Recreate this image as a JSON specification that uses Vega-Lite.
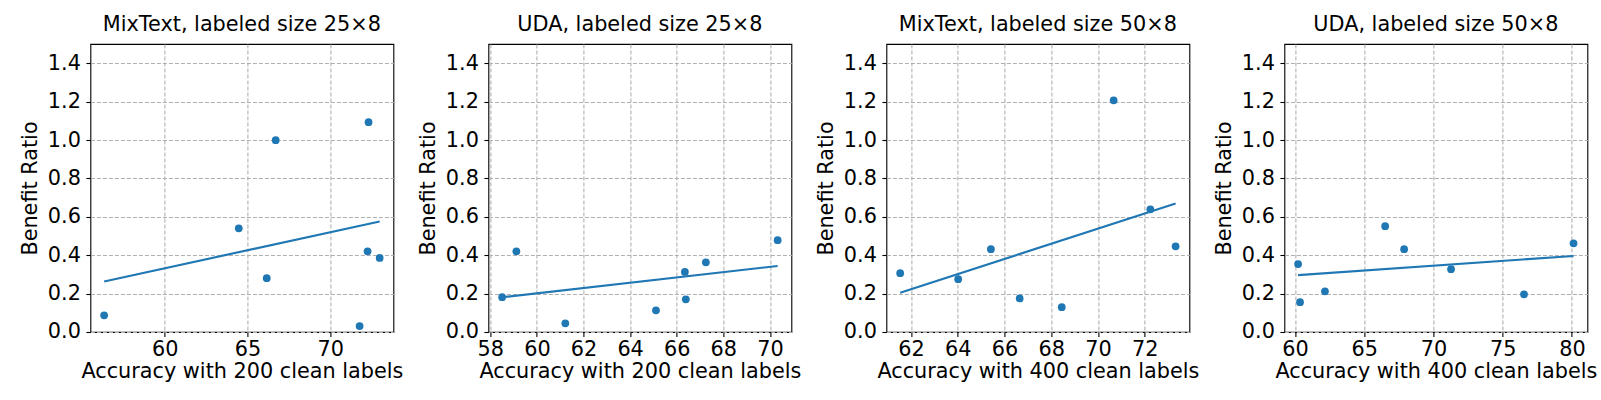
{
  "$schema": "https://vega.github.io/schema/vega-lite/v6.json",
  "background": "white",
  "padding": {"left": 18.4, "top": 13, "right": 0, "bottom": 0},
  "bounds": "flush",
  "spacing": 95,
  "datasets": {
    "points": [
      {"panel": "p1", "acc": 56.34, "ratio": 0.087},
      {"panel": "p1", "acc": 64.47, "ratio": 0.54},
      {"panel": "p1", "acc": 66.16, "ratio": 0.28},
      {"panel": "p1", "acc": 66.7, "ratio": 0.999},
      {"panel": "p1", "acc": 71.77, "ratio": 0.031},
      {"panel": "p1", "acc": 72.25, "ratio": 0.42},
      {"panel": "p1", "acc": 72.31, "ratio": 1.093},
      {"panel": "p1", "acc": 72.98, "ratio": 0.386},
      {"panel": "p2", "acc": 58.51, "ratio": 0.181},
      {"panel": "p2", "acc": 59.12, "ratio": 0.42},
      {"panel": "p2", "acc": 61.22, "ratio": 0.045},
      {"panel": "p2", "acc": 65.11, "ratio": 0.113},
      {"panel": "p2", "acc": 66.35, "ratio": 0.313},
      {"panel": "p2", "acc": 66.39, "ratio": 0.17},
      {"panel": "p2", "acc": 67.25, "ratio": 0.363},
      {"panel": "p2", "acc": 70.33, "ratio": 0.478},
      {"panel": "p3", "acc": 61.54, "ratio": 0.306},
      {"panel": "p3", "acc": 64.02, "ratio": 0.275},
      {"panel": "p3", "acc": 65.42, "ratio": 0.431},
      {"panel": "p3", "acc": 66.65, "ratio": 0.175},
      {"panel": "p3", "acc": 68.45, "ratio": 0.129},
      {"panel": "p3", "acc": 70.67, "ratio": 1.207},
      {"panel": "p3", "acc": 72.24, "ratio": 0.639},
      {"panel": "p3", "acc": 73.32, "ratio": 0.446},
      {"panel": "p4", "acc": 60.22, "ratio": 0.354},
      {"panel": "p4", "acc": 60.36, "ratio": 0.155},
      {"panel": "p4", "acc": 62.16, "ratio": 0.212},
      {"panel": "p4", "acc": 66.51, "ratio": 0.551},
      {"panel": "p4", "acc": 67.88, "ratio": 0.431},
      {"panel": "p4", "acc": 71.27, "ratio": 0.327},
      {"panel": "p4", "acc": 76.54, "ratio": 0.196},
      {"panel": "p4", "acc": 80.12, "ratio": 0.462}
    ]
  },
  "data": {"name": "points"},
  "hconcat": [
    {
      "title": "MixText, labeled size 25×8",
      "width": 303,
      "height": 288,
      "transform": [{"filter": "datum.panel === 'p1'"}],
      "encoding": {
        "x": {"field": "acc", "type": "quantitative", "title": "Accuracy with 200 clean labels",
              "scale": {"domain": [55.51, 73.81], "nice": false, "zero": false},
              "axis": {"values": [60, 65, 70]}},
        "y": {"field": "ratio", "type": "quantitative", "title": "Benefit Ratio",
              "scale": {"domain": [0, 1.5], "nice": false},
              "axis": {"values": [0, 0.2, 0.4, 0.6, 0.8, 1.0, 1.2, 1.4], "format": ".1f"}}
      },
      "layer": [
        {"mark": {"type": "circle", "size": 60, "opacity": 1, "color": "#1f77b4"}},
        {"transform": [{"regression": "ratio", "on": "acc"}],
         "mark": {"type": "line", "color": "#1f77b4", "strokeWidth": 2.1}}
      ]
    },
    {
      "title": "UDA, labeled size 25×8",
      "width": 303,
      "height": 288,
      "transform": [{"filter": "datum.panel === 'p2'"}],
      "encoding": {
        "x": {"field": "acc", "type": "quantitative", "title": "Accuracy with 200 clean labels",
              "scale": {"domain": [57.92, 70.92], "nice": false, "zero": false},
              "axis": {"values": [58, 60, 62, 64, 66, 68, 70]}},
        "y": {"field": "ratio", "type": "quantitative", "title": "Benefit Ratio",
              "scale": {"domain": [0, 1.5], "nice": false},
              "axis": {"values": [0, 0.2, 0.4, 0.6, 0.8, 1.0, 1.2, 1.4], "format": ".1f"}}
      },
      "layer": [
        {"mark": {"type": "circle", "size": 60, "opacity": 1, "color": "#1f77b4"}},
        {"transform": [{"regression": "ratio", "on": "acc"}],
         "mark": {"type": "line", "color": "#1f77b4", "strokeWidth": 2.1}}
      ]
    },
    {
      "title": "MixText, labeled size 50×8",
      "width": 303,
      "height": 288,
      "transform": [{"filter": "datum.panel === 'p3'"}],
      "encoding": {
        "x": {"field": "acc", "type": "quantitative", "title": "Accuracy with 400 clean labels",
              "scale": {"domain": [60.95, 73.91], "nice": false, "zero": false},
              "axis": {"values": [62, 64, 66, 68, 70, 72]}},
        "y": {"field": "ratio", "type": "quantitative", "title": "Benefit Ratio",
              "scale": {"domain": [0, 1.5], "nice": false},
              "axis": {"values": [0, 0.2, 0.4, 0.6, 0.8, 1.0, 1.2, 1.4], "format": ".1f"}}
      },
      "layer": [
        {"mark": {"type": "circle", "size": 60, "opacity": 1, "color": "#1f77b4"}},
        {"transform": [{"regression": "ratio", "on": "acc"}],
         "mark": {"type": "line", "color": "#1f77b4", "strokeWidth": 2.1}}
      ]
    },
    {
      "title": "UDA, labeled size 50×8",
      "width": 303,
      "height": 288,
      "transform": [{"filter": "datum.panel === 'p4'"}],
      "encoding": {
        "x": {"field": "acc", "type": "quantitative", "title": "Accuracy with 400 clean labels",
              "scale": {"domain": [59.23, 81.12], "nice": false, "zero": false},
              "axis": {"values": [60, 65, 70, 75, 80]}},
        "y": {"field": "ratio", "type": "quantitative", "title": "Benefit Ratio",
              "scale": {"domain": [0, 1.5], "nice": false},
              "axis": {"values": [0, 0.2, 0.4, 0.6, 0.8, 1.0, 1.2, 1.4], "format": ".1f"}}
      },
      "layer": [
        {"mark": {"type": "circle", "size": 60, "opacity": 1, "color": "#1f77b4"}},
        {"transform": [{"regression": "ratio", "on": "acc"}],
         "mark": {"type": "line", "color": "#1f77b4", "strokeWidth": 2.1}}
      ]
    }
  ],
  "config": {
    "font": "DejaVu Sans",
    "view": {"stroke": "black", "strokeWidth": 1.1},
    "axis": {
      "domain": false,
      "grid": true,
      "gridColor": "#b0b0b0",
      "gridDash": [4, 2],
      "gridWidth": 1.1,
      "tickColor": "black",
      "tickSize": 4.5,
      "tickWidth": 1.1,
      "labelPadding": 5.5,
      "labelFont": "DejaVu Sans",
      "labelFontSize": 20.8,
      "labelColor": "black",
      "labelFlush": false,
      "labelOverlap": false,
      "labelBound": false,
      "titleFont": "DejaVu Sans",
      "titleFontSize": 20.8,
      "titleFontWeight": "normal",
      "titleColor": "black",
      "titlePadding": 4
    },
    "axisX": {"labelPadding": 3.5, "titlePadding": 2},
    "axisY": {"titlePadding": 7},
    "title": {"font": "DejaVu Sans", "fontSize": 20.8, "fontWeight": "normal", "color": "black", "offset": 8}
  }
}
